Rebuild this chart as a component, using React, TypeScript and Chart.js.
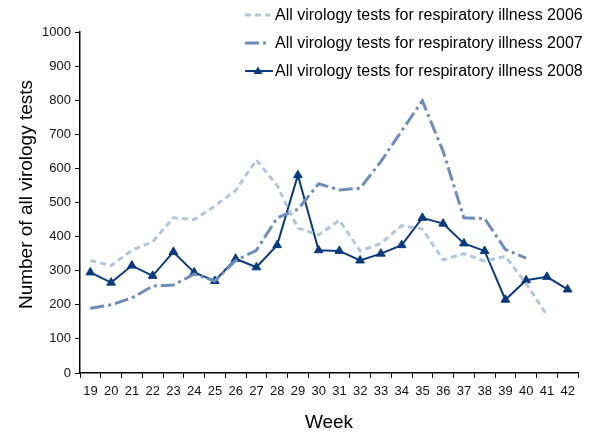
import React, { useEffect, useRef } from "react";
import { Chart, registerables } from "chart.js";

Chart.register(...registerables);

const weeks = ["19","20","21","22","23","24","25","26","27","28","29","30","31","32","33","34","35","36","37","38","39","40","41","42"];
const tests2006 = [330, 315, 360, 385, 455, 450, 490, 535, 625, 550, 425, 405, 448, 358, 380, 432, 422, 332, 350, 328, 342, 262, 170, null];
const tests2007 = [190, 200, 220, 255, 258, 290, 270, 330, 360, 455, 480, 555, 537, 542, 620, 710, 798, 650, 455, 453, 362, 337, null, null];
const tests2008 = [295, 265, 315, 285, 355, 295, 270, 335, 310, 375, 580, 360, 358, 330, 350, 375, 455, 438, 380, 358, 215, 272, 282, 245];
const legendLabels = [
  "All virology tests for respiratory illness 2006",
  "All virology tests for respiratory illness 2007",
  "All virology tests for respiratory illness 2008",
];
const yTitle = "Number of all virology tests";

const C2006 = "#b4c5de";
const C2007 = "#6d8dbd";
const C2008 = "#0b3b7f";
const FONT = "'Liberation Sans', Arial, sans-serif";

const legendPlugin = {
  id: "customLegend",
  afterDraw(chart: any) {
    const ctx = chart.ctx;
    const ds = chart.data.datasets;
    ctx.save();
    ds.forEach((d: any, i: number) => {
      const y = 7 + i * 28;
      ctx.strokeStyle = d.borderColor;
      ctx.lineWidth = d.borderWidth;
      ctx.setLineDash(d.borderDash || []);
      ctx.beginPath();
      ctx.moveTo(237, y);
      ctx.lineTo(i === 2 ? 265 : 262, y);
      ctx.stroke();
      ctx.setLineDash([]);
      if (i === 2) {
        ctx.fillStyle = d.borderColor;
        ctx.beginPath();
        ctx.moveTo(250, y - 4.5);
        ctx.lineTo(254.5, y + 3);
        ctx.lineTo(245.5, y + 3);
        ctx.closePath();
        ctx.fill();
      }
      ctx.fillStyle = "#000";
      ctx.font = `16px ${FONT}`;
      ctx.textBaseline = "middle";
      ctx.textAlign = "left";
      ctx.fillText(legendLabels[i], 267, y + 1);
    });
    // y axis title
    const area = chart.chartArea;
    ctx.translate(19, (area.top + area.bottom) / 2 - 8);
    ctx.rotate(-Math.PI / 2);
    ctx.font = `19px ${FONT}`;
    ctx.textAlign = "center";
    ctx.textBaseline = "middle";
    ctx.fillStyle = "#000";
    ctx.fillText(yTitle, 0, 0);
    ctx.restore();
  },
};

export default function App() {
  const ref = useRef<HTMLCanvasElement | null>(null);
  useEffect(() => {
    if (!ref.current) return;
    const chart = new Chart(ref.current, {
      type: "line",
      data: {
        labels: weeks,
        datasets: [
          {
            label: legendLabels[0],
            data: tests2006,
            borderColor: C2006,
            backgroundColor: C2006,
            borderWidth: 3,
            borderDash: [6, 4],
            pointRadius: 0,
            tension: 0,
            spanGaps: false,
          },
          {
            label: legendLabels[1],
            data: tests2007,
            borderColor: C2007,
            backgroundColor: C2007,
            borderWidth: 3,
            borderDash: [14, 4, 3, 4],
            pointRadius: 0,
            tension: 0,
          },
          {
            label: legendLabels[2],
            data: tests2008,
            borderColor: C2008,
            backgroundColor: C2008,
            borderWidth: 2,
            pointStyle: "triangle",
            pointRadius: 5,
            pointBorderWidth: 1,
            tension: 0,
          },
        ],
      },
      options: {
        animation: false,
        responsive: false,
        layout: { padding: { top: 24, right: 6, left: 0, bottom: 0 } },
        plugins: { legend: { display: false }, tooltip: { enabled: false } },
        scales: {
          x: {
            offset: true,
            grid: { display: true, drawOnChartArea: false, offset: true, tickLength: 5, color: "#000" },
            border: { color: "#000", width: 1.5 },
            ticks: { color: "#111", font: { family: FONT, size: 13 }, maxRotation: 0, autoSkip: false, padding: 6 },
            title: { display: true, text: "Week", color: "#000", font: { family: FONT, size: 19 }, padding: { top: 0, bottom: 0 } },
            afterFit(scale: any) { scale.height = 61; },
          },
          y: {
            min: 0,
            max: 1000,
            grid: { display: true, drawOnChartArea: false, tickLength: 5, color: "#000" },
            border: { color: "#000", width: 1.5 },
            ticks: { stepSize: 100, color: "#111", font: { family: FONT, size: 13 }, padding: 4, callback: (v: any) => String(v) },
            title: { display: false },
            afterFit(scale: any) { scale.width = 72; },
          },
        },
      },
      plugins: [legendPlugin],
    });
    return () => chart.destroy();
  }, []);
  return (
    <div style={{ width: 576, height: 426 }}>
      <canvas ref={ref} width={576} height={426} style={{ width: 576, height: 426, display: "block" }} />
    </div>
  );
}
